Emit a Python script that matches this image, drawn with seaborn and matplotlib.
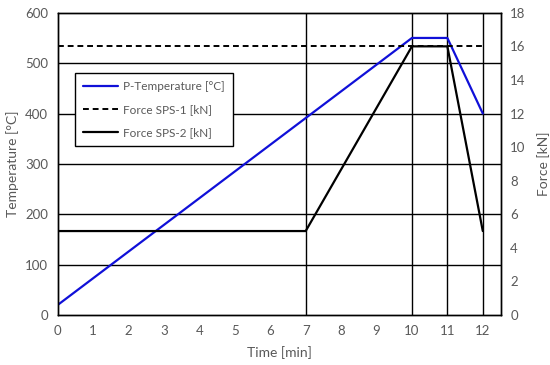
import pandas as pd
import numpy as np
import matplotlib
matplotlib.use('Agg')
import matplotlib.pyplot as plt
import seaborn as sns

# data
temp_time = [0, 10, 11, 12]
temp_vals = [20, 550, 550, 400]
sps1_time = [0, 12]
sps1_vals = [16, 16]
sps2_time = [0, 7, 10, 11, 12]
sps2_vals = [5, 5, 16, 16, 5]
vlines_at = [7, 10, 11, 12]

sns.set_style('white')
plt.rcParams['font.family'] = ['Lato', 'DejaVu Sans']
grey = '#595959'

fig, ax = plt.subplots(figsize=(5.5, 3.65), dpi=100)
fig.subplots_adjust(left=0.105, right=0.91, top=0.965, bottom=0.137)
ax2 = ax.twinx()

df_t = pd.DataFrame({'t': temp_time, 'v': temp_vals})
df_1 = pd.DataFrame({'t': sps1_time, 'v': sps1_vals})
df_2 = pd.DataFrame({'t': sps2_time, 'v': sps2_vals})

# grid
for y in [100, 200, 300, 400, 500]:
    ax.axhline(y, color='black', lw=1.0, zorder=0)
for x in vlines_at:
    ax.axvline(x, color='black', lw=1.0, zorder=0)

sns.lineplot(data=df_t, x='t', y='v', ax=ax, color='#1010d8', lw=1.6,
             label='P-Temperature [°C]', legend=False)
sns.lineplot(data=df_1, x='t', y='v', ax=ax2, color='black', lw=1.4,
             linestyle=(0, (3, 2)), label='Force SPS-1 [kN]', legend=False)
sns.lineplot(data=df_2, x='t', y='v', ax=ax2, color='black', lw=1.6,
             label='Force SPS-2 [kN]', legend=False)

ax.set_xlim(0, 12.5)
ax.set_ylim(0, 600)
ax2.set_ylim(0, 18)
ax.set_xticks(range(0, 13))
ax.set_yticks(range(0, 601, 100))
ax2.set_yticks(range(0, 19, 2))

ax.set_xlabel('Time [min]', color=grey, fontsize=10, labelpad=7)
ax.set_ylabel('Temperature [°C]', color=grey, fontsize=10)
ax2.set_ylabel('Force [kN]', color=grey, fontsize=10, labelpad=8)

for a in (ax, ax2):
    a.tick_params(axis='both', colors=grey, labelsize=9.5, length=0, pad=7)
    for s in a.spines.values():
        s.set_color('black')
        s.set_linewidth(1.0)

h1, l1 = ax.get_legend_handles_labels()
h2, l2 = ax2.get_legend_handles_labels()
leg = ax2.legend(h1 + h2, l1 + l2, loc='upper left', bbox_to_anchor=(0.038, 0.80),
                 borderaxespad=0, fancybox=False, framealpha=1, edgecolor='black',
                 fontsize=8.5, handlelength=3.0, handletextpad=0.4,
                 labelspacing=1.0, borderpad=0.7)
leg.get_frame().set_linewidth(1.0)
for t in leg.get_texts():
    t.set_color(grey)

fig.savefig('out.png', dpi=100)
